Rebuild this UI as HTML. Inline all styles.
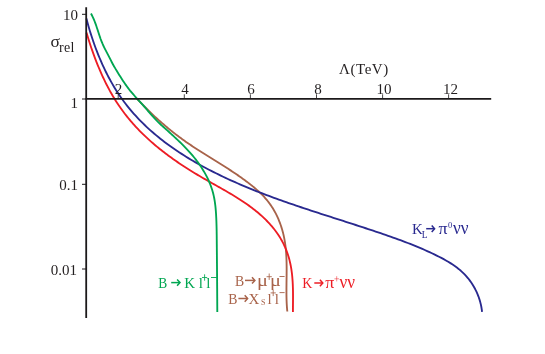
<!DOCTYPE html>
<html><head><meta charset="utf-8">
<style>
html,body{margin:0;padding:0;background:#fff;}
body{width:545px;height:354px;overflow:hidden;position:relative;font-family:"Liberation Serif",serif;}
svg{position:absolute;left:0;top:0;will-change:transform;}
text{font-family:"Liberation Serif",serif;}
</style></head><body>
<svg width="545" height="354" viewBox="0 0 545 354">

<g fill="none" stroke-width="1.85" stroke-linecap="butt" stroke-linejoin="round">
<path d="M137.06,98.83 L138.03,99.86 L139.00,100.89 L139.97,101.92 L140.95,102.94 L141.93,103.96 L142.91,104.97 L143.90,105.98 L144.90,106.99 L145.90,107.99 L146.90,108.99 L147.90,109.98 L148.91,110.97 L149.93,111.96 L150.94,112.94 L151.96,113.91 L152.99,114.88 L154.02,115.85 L155.05,116.81 L156.09,117.77 L157.13,118.72 L158.18,119.66 L159.23,120.61 L160.29,121.54 L161.34,122.48 L162.41,123.40 L163.47,124.32 L164.54,125.24 L165.62,126.15 L166.70,127.06 L167.78,127.96 L168.87,128.86 L169.96,129.75 L171.06,130.64 L172.16,131.52 L173.26,132.39 L174.37,133.26 L175.49,134.12 L176.60,134.98 L177.73,135.84 L178.85,136.68 L179.98,137.53 L181.12,138.36 L182.26,139.19 L183.40,140.02 L184.55,140.83 L185.70,141.65 L186.86,142.45 L188.02,143.25 L189.18,144.05 L190.35,144.84 L191.52,145.63 L192.69,146.41 L193.87,147.19 L195.05,147.96 L196.24,148.73 L197.42,149.50 L198.61,150.26 L199.80,151.02 L200.99,151.78 L202.19,152.54 L203.39,153.29 L204.58,154.04 L205.78,154.79 L206.98,155.54 L208.19,156.29 L209.39,157.04 L210.59,157.78 L211.79,158.53 L213.00,159.27 L214.20,160.02 L215.41,160.77 L216.61,161.51 L217.81,162.26 L219.01,163.01 L220.22,163.76 L221.42,164.51 L222.62,165.27 L223.81,166.02 L225.01,166.78 L226.21,167.54 L227.40,168.31 L228.59,169.08 L229.78,169.85 L230.97,170.62 L232.15,171.40 L233.33,172.18 L234.51,172.97 L235.68,173.76 L236.86,174.56 L238.02,175.37 L239.19,176.17 L240.35,176.99 L241.51,177.81 L242.66,178.63 L243.81,179.47 L244.95,180.31 L246.09,181.16 L247.22,182.01 L248.35,182.87 L249.47,183.74 L250.59,184.62 L251.70,185.51 L252.81,186.40 L253.91,187.31 L254.99,188.22 L256.07,189.15 L257.14,190.08 L258.19,191.03 L259.23,191.99 L260.26,192.96 L261.27,193.95 L262.27,194.95 L263.25,195.96 L264.21,196.98 L265.15,198.02 L266.07,199.08 L266.97,200.15 L267.85,201.24 L268.71,202.34 L269.54,203.46 L270.36,204.60 L271.15,205.74 L271.92,206.91 L272.67,208.08 L273.39,209.27 L274.10,210.48 L274.78,211.69 L275.45,212.92 L276.09,214.16 L276.71,215.41 L277.31,216.67 L277.89,217.94 L278.45,219.23 L278.99,220.52 L279.51,221.82 L280.01,223.13 L280.49,224.45 L280.95,225.78 L281.39,227.12 L281.81,228.46 L282.21,229.81 L282.59,231.17 L282.95,232.53 L283.29,233.90 L283.61,235.28 L283.91,236.66 L284.20,238.05 L284.46,239.43 L284.71,240.83 L284.93,242.23 L285.14,243.63 L285.34,245.03 L285.51,246.44 L285.67,247.85 L285.82,249.26 L285.95,250.68 L286.07,252.09 L286.17,253.51 L286.26,254.94 L286.34,256.36 L286.41,257.79 L286.47,259.21 L286.52,260.64 L286.56,262.07 L286.59,263.50 L286.61,264.94 L286.63,266.37 L286.64,267.80 L286.64,269.24 L286.64,270.67 L286.63,272.10 L286.62,273.54 L286.61,274.97 L286.59,276.40 L286.58,277.83 L286.56,279.26 L286.54,280.69 L286.52,282.12 L286.50,283.54 L286.49,284.97 L286.47,286.39 L286.46,287.81 L286.45,289.23 L286.45,290.65 L286.45,292.06 L286.45,293.47 L286.46,294.88 L286.48,296.28 L286.51,297.68 L286.54,299.08 L286.58,300.48 L286.64,301.87 L286.70,303.25 L286.77,304.63 L286.86,306.01 L286.95,307.38 L287.06,308.75 L287.18,310.11 L287.32,311.47" stroke="#a8634a"/>
<path d="M86.48,32.63 L86.99,34.34 L87.52,36.06 L88.05,37.78 L88.59,39.51 L89.13,41.24 L89.69,42.97 L90.26,44.70 L90.84,46.44 L91.43,48.18 L92.03,49.91 L92.64,51.65 L93.26,53.39 L93.89,55.13 L94.53,56.87 L95.18,58.60 L95.85,60.34 L96.52,62.07 L97.21,63.80 L97.91,65.53 L98.62,67.25 L99.34,68.97 L100.07,70.69 L100.82,72.40 L101.58,74.11 L102.35,75.81 L103.13,77.51 L103.93,79.20 L104.74,80.88 L105.56,82.56 L106.40,84.23 L107.25,85.89 L108.11,87.54 L108.99,89.18 L109.88,90.82 L110.78,92.45 L111.70,94.06 L112.63,95.67 L113.58,97.26 L114.54,98.84 L115.52,100.42 L116.51,101.98 L117.52,103.52 L118.54,105.06 L119.57,106.58 L120.63,108.09 L121.69,109.58 L122.78,111.07 L123.87,112.54 L124.98,113.99 L126.11,115.44 L127.25,116.87 L128.40,118.29 L129.57,119.69 L130.75,121.09 L131.94,122.47 L133.15,123.84 L134.37,125.20 L135.60,126.55 L136.85,127.88 L138.10,129.21 L139.37,130.52 L140.65,131.82 L141.95,133.11 L143.25,134.39 L144.57,135.66 L145.90,136.92 L147.24,138.17 L148.58,139.41 L149.94,140.63 L151.32,141.85 L152.70,143.06 L154.09,144.25 L155.49,145.44 L156.90,146.61 L158.32,147.78 L159.75,148.94 L161.19,150.09 L162.63,151.22 L164.09,152.35 L165.56,153.47 L167.03,154.58 L168.51,155.69 L170.00,156.78 L171.50,157.87 L173.00,158.94 L174.52,160.01 L176.04,161.07 L177.56,162.12 L179.10,163.16 L180.64,164.20 L182.19,165.23 L183.74,166.25 L185.30,167.26 L186.87,168.26 L188.44,169.26 L190.01,170.25 L191.60,171.23 L193.19,172.21 L194.78,173.18 L196.38,174.14 L197.98,175.10 L199.59,176.05 L201.20,176.99 L202.81,177.93 L204.43,178.86 L206.05,179.79 L207.67,180.71 L209.30,181.63 L210.92,182.55 L212.55,183.47 L214.18,184.38 L215.80,185.30 L217.43,186.21 L219.05,187.13 L220.67,188.05 L222.29,188.97 L223.91,189.89 L225.52,190.82 L227.13,191.75 L228.73,192.68 L230.33,193.63 L231.92,194.57 L233.50,195.53 L235.08,196.49 L236.65,197.47 L238.21,198.45 L239.77,199.44 L241.31,200.44 L242.85,201.45 L244.38,202.47 L245.89,203.51 L247.39,204.56 L248.89,205.62 L250.37,206.70 L251.83,207.79 L253.29,208.90 L254.73,210.02 L256.15,211.17 L257.56,212.33 L258.96,213.50 L260.34,214.70 L261.70,215.92 L263.05,217.16 L264.37,218.42 L265.68,219.70 L266.98,221.00 L268.25,222.33 L269.50,223.68 L270.73,225.05 L271.93,226.44 L273.11,227.86 L274.26,229.29 L275.38,230.75 L276.48,232.23 L277.54,233.74 L278.57,235.26 L279.56,236.80 L280.52,238.37 L281.44,239.96 L282.33,241.56 L283.17,243.19 L283.98,244.83 L284.75,246.50 L285.48,248.18 L286.18,249.88 L286.83,251.59 L287.45,253.32 L288.03,255.06 L288.58,256.82 L289.09,258.59 L289.56,260.38 L289.99,262.17 L290.39,263.98 L290.76,265.79 L291.09,267.62 L291.38,269.46 L291.65,271.30 L291.89,273.15 L292.09,275.00 L292.28,276.86 L292.43,278.73 L292.57,280.59 L292.68,282.46 L292.78,284.34 L292.85,286.21 L292.91,288.08 L292.96,289.95 L292.99,291.82 L293.01,293.69 L293.02,295.55 L293.02,297.41 L293.01,299.26 L293.00,301.11 L292.99,302.95 L292.97,304.78 L292.96,306.60 L292.95,308.41 L292.94,310.21 L292.93,312.00" stroke="#ed1c24"/>
<path d="M86.43,18.60 L87.07,21.04 L87.74,23.50 L88.42,25.96 L89.14,28.42 L89.87,30.89 L90.63,33.36 L91.42,35.84 L92.23,38.31 L93.06,40.79 L93.92,43.26 L94.80,45.73 L95.71,48.20 L96.64,50.67 L97.60,53.13 L98.58,55.58 L99.59,58.02 L100.63,60.46 L101.69,62.89 L102.78,65.30 L103.90,67.71 L105.04,70.10 L106.21,72.48 L107.41,74.85 L108.63,77.20 L109.89,79.53 L111.17,81.84 L112.48,84.14 L113.82,86.41 L115.18,88.67 L116.58,90.90 L118.01,93.11 L119.46,95.30 L120.95,97.46 L122.46,99.59 L124.01,101.70 L125.58,103.78 L127.18,105.84 L128.81,107.87 L130.47,109.87 L132.15,111.85 L133.87,113.81 L135.60,115.74 L137.37,117.64 L139.16,119.52 L140.97,121.38 L142.81,123.22 L144.67,125.03 L146.55,126.81 L148.46,128.58 L150.39,130.32 L152.34,132.04 L154.31,133.74 L156.30,135.41 L158.31,137.07 L160.34,138.70 L162.39,140.31 L164.46,141.90 L166.55,143.47 L168.66,145.02 L170.78,146.55 L172.92,148.06 L175.07,149.55 L177.24,151.02 L179.43,152.47 L181.63,153.90 L183.84,155.32 L186.07,156.71 L188.31,158.09 L190.56,159.45 L192.82,160.79 L195.10,162.11 L197.39,163.42 L199.68,164.71 L201.99,165.98 L204.31,167.24 L206.63,168.48 L208.97,169.71 L211.31,170.92 L213.66,172.11 L216.02,173.29 L218.38,174.45 L220.75,175.60 L223.12,176.74 L225.50,177.86 L227.88,178.97 L230.27,180.06 L232.66,181.14 L235.06,182.21 L237.46,183.26 L239.87,184.31 L242.27,185.34 L244.69,186.35 L247.10,187.36 L249.52,188.36 L251.95,189.34 L254.37,190.32 L256.80,191.28 L259.24,192.24 L261.68,193.18 L264.12,194.12 L266.56,195.05 L269.01,195.96 L271.45,196.87 L273.91,197.78 L276.36,198.67 L278.82,199.56 L281.28,200.44 L283.74,201.31 L286.20,202.17 L288.67,203.03 L291.14,203.89 L293.61,204.74 L296.08,205.58 L298.55,206.42 L301.03,207.25 L303.51,208.08 L305.99,208.90 L308.47,209.72 L310.95,210.54 L313.43,211.36 L315.92,212.17 L318.40,212.98 L320.89,213.78 L323.38,214.59 L325.87,215.39 L328.36,216.19 L330.85,216.99 L333.34,217.79 L335.83,218.59 L338.32,219.39 L340.81,220.19 L343.30,220.99 L345.79,221.79 L348.28,222.59 L350.78,223.39 L353.27,224.19 L355.76,225.00 L358.25,225.81 L360.74,226.62 L363.23,227.43 L365.72,228.25 L368.21,229.07 L370.69,229.89 L373.18,230.72 L375.67,231.56 L378.15,232.39 L380.63,233.24 L383.12,234.08 L385.60,234.94 L388.07,235.80 L390.55,236.66 L393.02,237.54 L395.50,238.42 L397.96,239.32 L400.43,240.22 L402.89,241.14 L405.34,242.06 L407.79,243.00 L410.24,243.96 L412.68,244.92 L415.11,245.91 L417.54,246.91 L419.96,247.92 L422.37,248.95 L424.77,250.00 L427.17,251.07 L429.56,252.16 L431.94,253.27 L434.31,254.40 L436.67,255.56 L439.02,256.73 L441.36,257.94 L443.67,259.18 L445.96,260.45 L448.22,261.77 L450.45,263.13 L452.63,264.55 L454.77,266.02 L456.87,267.55 L458.90,269.15 L460.88,270.82 L462.79,272.56 L464.63,274.39 L466.40,276.30 L468.09,278.29 L469.70,280.36 L471.23,282.50 L472.67,284.70 L474.02,286.97 L475.28,289.30 L476.45,291.68 L477.52,294.10 L478.49,296.57 L479.36,299.08 L480.12,301.61 L480.78,304.17 L481.32,306.76 L481.75,309.36 L482.07,311.97" stroke="#29298f"/>
<path d="M90.97,13.51 L91.78,15.03 L92.55,16.56 L93.27,18.11 L93.95,19.67 L94.59,21.25 L95.20,22.84 L95.78,24.44 L96.34,26.05 L96.88,27.67 L97.41,29.29 L97.94,30.91 L98.46,32.53 L98.99,34.15 L99.53,35.77 L100.08,37.37 L100.64,38.98 L101.24,40.57 L101.86,42.15 L102.51,43.71 L103.20,45.26 L103.93,46.80 L104.68,48.33 L105.45,49.84 L106.24,51.36 L107.03,52.87 L107.82,54.38 L108.60,55.89 L109.37,57.41 L110.14,58.93 L110.91,60.45 L111.69,61.96 L112.48,63.46 L113.29,64.95 L114.12,66.44 L114.97,67.91 L115.83,69.37 L116.71,70.82 L117.59,72.27 L118.49,73.72 L119.39,75.16 L120.30,76.60 L121.22,78.04 L122.15,79.47 L123.08,80.90 L124.03,82.32 L124.99,83.73 L125.97,85.13 L126.96,86.51 L127.98,87.88 L129.01,89.24 L130.06,90.58 L131.14,91.89 L132.24,93.19 L133.36,94.48 L134.48,95.76 L135.62,97.02 L136.77,98.28 L137.93,99.54 L139.08,100.80 L140.23,102.06 L141.38,103.32 L142.52,104.59 L143.65,105.87 L144.77,107.16 L145.88,108.46 L146.99,109.76 L148.10,111.06 L149.21,112.36 L150.32,113.65 L151.44,114.94 L152.57,116.22 L153.71,117.49 L154.86,118.73 L156.04,119.97 L157.23,121.18 L158.45,122.37 L159.68,123.54 L160.92,124.70 L162.18,125.86 L163.44,127.00 L164.71,128.14 L165.99,129.28 L167.26,130.42 L168.53,131.56 L169.80,132.70 L171.07,133.85 L172.33,135.00 L173.59,136.15 L174.85,137.31 L176.10,138.48 L177.34,139.65 L178.58,140.83 L179.81,142.01 L181.03,143.20 L182.25,144.40 L183.45,145.61 L184.65,146.83 L185.83,148.06 L187.00,149.30 L188.16,150.55 L189.30,151.81 L190.44,153.08 L191.56,154.36 L192.66,155.66 L193.75,156.97 L194.82,158.29 L195.87,159.63 L196.91,160.98 L197.93,162.35 L198.92,163.74 L199.90,165.14 L200.86,166.56 L201.80,167.99 L202.71,169.44 L203.60,170.91 L204.47,172.39 L205.31,173.89 L206.12,175.40 L206.91,176.92 L207.67,178.46 L208.39,180.01 L209.09,181.57 L209.75,183.15 L210.38,184.74 L210.98,186.34 L211.54,187.94 L212.07,189.56 L212.56,191.19 L213.01,192.83 L213.42,194.48 L213.80,196.14 L214.14,197.80 L214.45,199.47 L214.72,201.15 L214.97,202.84 L215.20,204.52 L215.39,206.22 L215.57,207.92 L215.72,209.62 L215.86,211.32 L215.98,213.02 L216.09,214.73 L216.18,216.44 L216.27,218.15 L216.34,219.85 L216.41,221.56 L216.46,223.27 L216.51,224.97 L216.56,226.68 L216.60,228.39 L216.63,230.09 L216.66,231.80 L216.68,233.51 L216.71,235.21 L216.73,236.92 L216.74,238.62 L216.76,240.33 L216.78,242.04 L216.79,243.74 L216.81,245.45 L216.82,247.16 L216.84,248.86 L216.85,250.57 L216.87,252.27 L216.89,253.98 L216.90,255.69 L216.92,257.39 L216.93,259.10 L216.95,260.81 L216.96,262.51 L216.98,264.22 L216.99,265.92 L217.01,267.63 L217.02,269.34 L217.03,271.04 L217.05,272.75 L217.06,274.46 L217.07,276.16 L217.08,277.87 L217.10,279.58 L217.11,281.28 L217.12,282.99 L217.13,284.70 L217.14,286.40 L217.15,288.11 L217.17,289.82 L217.18,291.52 L217.19,293.23 L217.20,294.94 L217.21,296.64 L217.22,298.35 L217.23,300.06 L217.24,301.76 L217.25,303.47 L217.26,305.17 L217.27,306.88 L217.28,308.59 L217.29,310.29 L217.30,312.00" stroke="#00a651"/>
</g>
<g stroke="#1c191a" fill="none">
<line x1="86.2" y1="7.2" x2="86.2" y2="318" stroke-width="1.8"/>
<line x1="85.5" y1="98.9" x2="491.2" y2="98.9" stroke-width="1.85"/>
<g stroke-width="1">
<line x1="82" y1="14.3" x2="86" y2="14.3"/>
<line x1="82" y1="99" x2="86" y2="99"/>
<line x1="82" y1="184.3" x2="86" y2="184.3"/>
<line x1="82" y1="269" x2="86" y2="269"/>
<line x1="118.2" y1="94.3" x2="118.2" y2="99" stroke-width="0.8"/>
<line x1="184.3" y1="94.3" x2="184.3" y2="99" stroke-width="0.8"/>
<line x1="250.4" y1="94.3" x2="250.4" y2="99" stroke-width="0.8"/>
<line x1="316.5" y1="94.3" x2="316.5" y2="99" stroke-width="0.8"/>
<line x1="382.6" y1="94.3" x2="382.6" y2="99" stroke-width="0.8"/>
<line x1="448.6" y1="94.3" x2="448.6" y2="99" stroke-width="0.8"/>
</g></g>
<g fill="#231f20" font-size="15px">
<text x="78" y="19.8" text-anchor="end">10</text>
<text x="78" y="107.5" text-anchor="end">1</text>
<text x="78" y="189.9" text-anchor="end">0.1</text>
<text x="77" y="275.1" text-anchor="end">0.01</text>
<text transform="translate(118.4,93.8) scale(0.965,1)" text-anchor="middle" font-size="15.6px">2</text>
<text transform="translate(185,93.8) scale(0.965,1)" text-anchor="middle" font-size="15.6px">4</text>
<text transform="translate(251,93.8) scale(0.965,1)" text-anchor="middle" font-size="15.6px">6</text>
<text transform="translate(317.9,93.5) scale(0.965,1)" text-anchor="middle" font-size="15.6px">8</text>
<text transform="translate(384,93.8) scale(0.965,1)" text-anchor="middle" font-size="15.6px">10</text>
<text transform="translate(450.5,93.8) scale(0.965,1)" text-anchor="middle" font-size="15.6px">12</text>
<text x="339" y="74.3" letter-spacing="0.55">Λ(TeV)</text>
<text transform="translate(50.5,47.3) scale(1.06,1)" font-size="16.5px">σ</text>
<text x="59" y="51.7" font-size="14px" letter-spacing="0.35">rel</text>
</g>
<g id="lab-green" fill="#00a651" font-size="15px">
<text transform="translate(158.2,288) scale(0.9,1)" font-size="15px">B</text>
<text x="184.3" y="288">K</text>
<text x="198.8" y="288">l</text>
<text x="206.2" y="288">l</text>
<g stroke="#00a651" stroke-width="1.5" fill="none" stroke-linecap="butt"><line x1="171.2" y1="282.6" x2="179.70000000000002" y2="282.6"/><polyline points="177.10000000000002,279.40000000000003 180.0,282.6 177.10000000000002,285.8" stroke-linejoin="miter"/></g>
<g stroke="#00a651" stroke-width="0.85"><line x1="202.0" y1="277.5" x2="207.2" y2="277.5"/><line x1="204.6" y1="274.3" x2="204.6" y2="280.7"/></g>
<line x1="211" y1="277.5" x2="216.8" y2="277.5" stroke="#00a651" stroke-width="0.9"/>
</g>
<g id="lab-brown" fill="#a8634a" font-size="15px">
<text transform="translate(235,285.6) scale(0.92,1)" font-size="15px">B</text>
<text transform="translate(256.9,285.6) scale(1.27,1)" font-size="16px">μ</text>
<text transform="translate(269.9,285.6) scale(1.27,1)" font-size="16px">μ</text>
<g stroke="#a8634a" stroke-width="1.5" fill="none" stroke-linecap="butt"><line x1="245" y1="280.4" x2="254.6" y2="280.4"/><polyline points="252.0,277.2 254.89999999999998,280.4 252.0,283.59999999999997" stroke-linejoin="miter"/></g>
<g stroke="#a8634a" stroke-width="0.85"><line x1="266.59999999999997" y1="276.7" x2="271.8" y2="276.7"/><line x1="269.2" y1="273.5" x2="269.2" y2="279.9"/></g>
<line x1="279.5" y1="276.5" x2="284.6" y2="276.5" stroke="#a8634a" stroke-width="0.9"/>
<text transform="translate(228.2,303.5) scale(0.92,1)" font-size="15px">B</text>
<text x="248.5" y="303.5">X</text>
<text x="261" y="305.4" font-size="8px">S</text>
<text x="267.4" y="303.5">l</text>
<text x="274.8" y="303.5">l</text>
<g stroke="#a8634a" stroke-width="1.5" fill="none" stroke-linecap="butt"><line x1="238.4" y1="298.5" x2="247.3" y2="298.5"/><polyline points="244.70000000000002,295.3 247.6,298.5 244.70000000000002,301.7" stroke-linejoin="miter"/></g>
<g stroke="#a8634a" stroke-width="0.85"><line x1="270.59999999999997" y1="292.9" x2="275.8" y2="292.9"/><line x1="273.2" y1="289.7" x2="273.2" y2="296.09999999999997"/></g>
<line x1="279.5" y1="292.6" x2="284.6" y2="292.6" stroke="#a8634a" stroke-width="0.9"/>
</g>
<g id="lab-red" fill="#ed1c24" font-size="15px">
<text transform="translate(302.3,288) scale(0.93,1)" font-size="15px">K</text>
<text transform="translate(325.3,288) scale(1.05,1)" font-size="17px">π</text>
<text transform="translate(339.5,288) scale(0.88,1)" font-size="19.5px">νν</text>
<g stroke="#ed1c24" stroke-width="1.5" fill="none" stroke-linecap="butt"><line x1="314.3" y1="283" x2="322.5" y2="283"/><polyline points="319.90000000000003,279.8 322.8,283 319.90000000000003,286.2" stroke-linejoin="miter"/></g>
<g stroke="#ed1c24" stroke-width="0.5"><line x1="334.4" y1="278.8" x2="339.0" y2="278.8"/><line x1="336.7" y1="276.2" x2="336.7" y2="281.40000000000003"/></g>
</g>
<g id="lab-blue" fill="#29298f" font-size="15px">
<text x="412" y="233.9">K</text>
<text x="421.8" y="237.5" font-size="9.5px">L</text>
<text transform="translate(438.4,233.9) scale(1.05,1)" font-size="17px">π</text>
<text x="447.9" y="228.3" font-size="8.5px">0</text>
<text transform="translate(453,233.9) scale(0.88,1)" font-size="19.5px">νν</text>
<g stroke="#29298f" stroke-width="1.5" fill="none" stroke-linecap="butt"><line x1="426.2" y1="228.7" x2="434.29999999999995" y2="228.7"/><polyline points="431.7,225.5 434.59999999999997,228.7 431.7,231.89999999999998" stroke-linejoin="miter"/></g>
</g>
</svg>
</body></html>
